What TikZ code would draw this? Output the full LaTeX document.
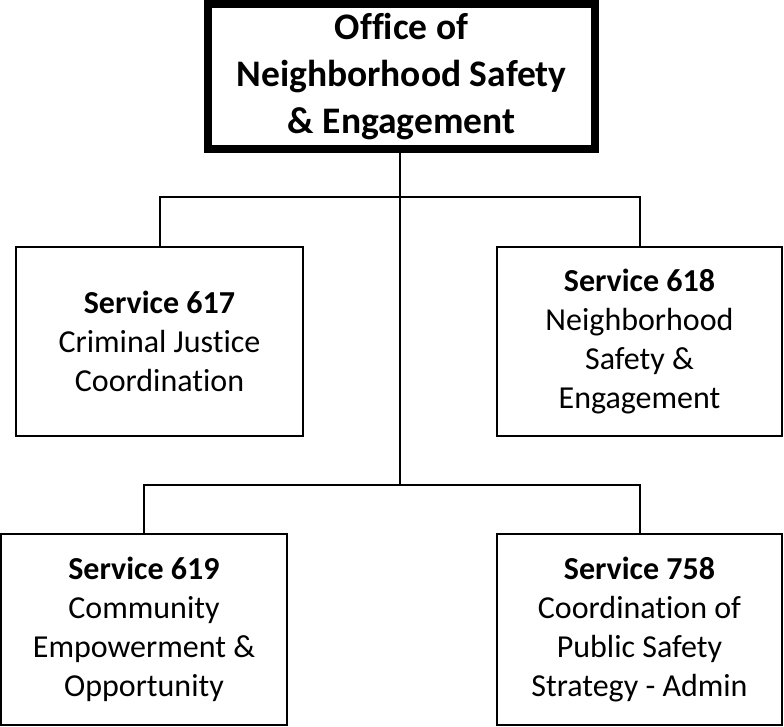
\documentclass[tikz,border=0pt]{standalone}
\usepackage{fontspec}
\setmainfont{Carlito}[Ligatures=NoCommon]
\begin{document}
\begin{tikzpicture}[x=1pt,y=-1pt,
  box/.style={draw=black,line width=2pt,inner sep=0pt,outer sep=0pt,align=center,
    font=\fontsize{32}{39}\selectfont},
  topbox/.style={draw=black,line width=8pt,inner sep=0pt,outer sep=0pt,align=center,
    font=\bfseries\fontsize{37.5}{47}\selectfont},
  conn/.style={draw=black,line width=2pt}]
\useasboundingbox (0,0) rectangle (784,727);
\node[topbox,minimum width=387pt,minimum height=145pt] (top) at (401.5,76.5)
  {Office of\\Neighborhood Safety\\\& Engagement};
\node[box,minimum width=287pt,minimum height=189pt] (s617) at (159.5,341.5)
  {\textbf{Service 617}\\Criminal Justice\\Coordination};
\node[box,minimum width=285pt,minimum height=189pt] (s618) at (639.5,341.5)
  {\textbf{Service 618}\\Neighborhood\\Safety \&\\Engagement};
\node[box,minimum width=286pt,minimum height=191pt] (s619) at (144,629.5)
  {\textbf{Service 619}\\Community\\Empowerment \&\\Opportunity};
\node[box,minimum width=285pt,minimum height=191pt] (s758) at (639.5,629.5)
  {\textbf{Service 758}\\Coordination of\\Public Safety\\Strategy - Admin};
\coordinate (j1) at (400,197);
\coordinate (j2) at (400,485);
\draw[conn] (j1 |- top.south) -- (j2);
\draw[conn] (s617.north) |- (j1) -| (s618.north);
\draw[conn] (s619.north) |- (j2) -| (s758.north);
\end{tikzpicture}
\end{document}
